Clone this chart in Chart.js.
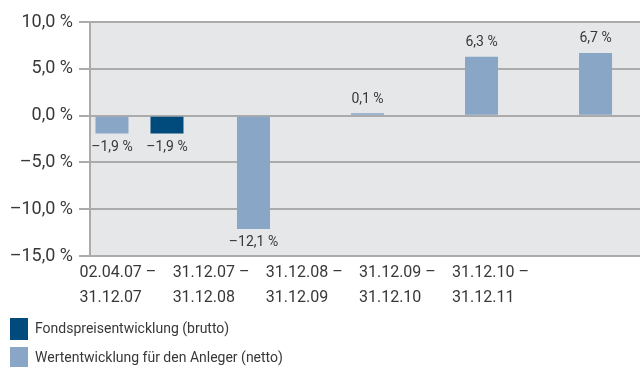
<!DOCTYPE html>
<html>
<head>
<meta charset="utf-8">
<script src="https://cdn.jsdelivr.net/npm/chart.js"></script>
<style>
  html, body { margin: 0; padding: 0; background: #fff; }
  canvas { display: block; }
</style>
</head>
<body>
<canvas id="myChart" width="640" height="367"></canvas>
<script>
// periods on the x axis (two lines each)
const periods = [
    ['02.04.07 –', '31.12.07'],
    ['31.12.07 –', '31.12.08'],
    ['31.12.08 –', '31.12.09'],
    ['31.12.09 –', '31.12.10'],
    ['31.12.10 –', '31.12.11']
];
// performance in percent
const nettoValues = [-1.9, -12.1, 0.1, 6.3, 6.7];
const bruttoValues = [-1.9, null, null, null, null];
const yTicks = [10, 5, 0, -5, -10, -15];
const bruttoName = 'Fondspreisentwicklung (brutto)';
const nettoName = 'Wertentwicklung für den Anleger (netto)';

const FONT = "Roboto, 'DejaVu Sans Condensed', sans-serif";
const TEXT = '#383838';
const GRID = '#ababab';
const LIGHT = '#89a6c7';
const DARK = '#004b7c';

function pct(v) {
    return v.toFixed(1).replace('.', ',').replace('-', '–') + ' %';
}

const plotBackground = {
    id: 'plotBackground',
    beforeDraw(chart) {
        const { ctx, chartArea } = chart;
        ctx.save();
        ctx.fillStyle = '#e6e7e9';
        ctx.fillRect(chartArea.left, chartArea.top, chartArea.right - chartArea.left, chartArea.bottom - chartArea.top);
        ctx.restore();
    }
};

const valueLabels = {
    id: 'valueLabels',
    afterDatasetsDraw(chart) {
        const ctx = chart.ctx;
        ctx.save();
        ctx.font = '14px ' + FONT;
        ctx.fillStyle = TEXT;
        ctx.textAlign = 'center';
        chart.data.datasets.forEach((ds, di) => {
            const meta = chart.getDatasetMeta(di);
            meta.data.forEach((bar, i) => {
                const v = ds.data[i].y;
                if (v === null) return;
                if (v >= 0) {
                    ctx.textBaseline = 'bottom';
                    ctx.fillText(pct(v), bar.x, bar.y - 7);
                } else {
                    ctx.textBaseline = 'top';
                    ctx.fillText(pct(v), bar.x, bar.y + 7);
                }
            });
        });
        ctx.restore();
    }
};

// stacked legend under the period labels, brutto first
const stackedLegend = {
    id: 'stackedLegend',
    afterDraw(chart) {
        const ctx = chart.ctx;
        const top = chart.scales.xl.bottom + 4;
        const items = chart.data.datasets.slice().reverse();
        ctx.save();
        ctx.font = '14px ' + FONT;
        ctx.textBaseline = 'middle';
        ctx.textAlign = 'left';
        items.forEach((ds, k) => {
            const y = top + k * 29;
            ctx.fillStyle = ds.backgroundColor;
            ctx.fillRect(10, y, 18, 22);
            ctx.fillStyle = TEXT;
            ctx.fillText(ds.label, 35, y + 11);
        });
        ctx.restore();
    }
};

const data = {
    datasets: [{
        label: nettoName,
        data: nettoValues.map((v, i) => ({ x: i, y: v })),
        backgroundColor: LIGHT
    }, {
        label: bruttoName,
        data: bruttoValues.map((v, i) => ({ x: i, y: v })),
        backgroundColor: DARK
    }]
};

const config = {
    type: 'bar',
    data: data,
    options: {
        responsive: false,
        animation: false,
        devicePixelRatio: 1,
        skipNull: true,
        categoryPercentage: 0.965,
        barPercentage: 0.6,
        maxBarThickness: 33,
        minBarLength: 2.5,
        layout: {
            padding: { top: 22, right: 0, bottom: 53, left: 0 }
        },
        plugins: {
            legend: { display: false },
            tooltip: { enabled: false }
        },
        scales: {
            x: {
                type: 'linear',
                display: false,
                offset: false,
                min: -0.434,
                max: 4.39,
                afterBuildTicks: (s) => { s.ticks = periods.map((p, i) => ({ value: i })); }
            },
            xl: {
                type: 'linear',
                axis: 'x',
                position: 'bottom',
                offset: false,
                min: 0.113,
                max: 6.017,
                afterBuildTicks: (s) => { s.ticks = periods.map((p, i) => ({ value: i })); },
                grid: { display: false, drawTicks: false },
                border: { display: false },
                ticks: {
                    align: 'start',
                    autoSkip: false,
                    maxRotation: 0,
                    padding: 4,
                    color: TEXT,
                    font: { family: FONT, size: 16, lineHeight: 1.56 },
                    callback: (v) => periods[v]
                }
            },
            y: {
                min: -15,
                max: 10,
                afterBuildTicks: (s) => { s.ticks = yTicks.map(v => ({ value: v })); },
                afterFit: (s) => { s.width = 90; },
                grid: { color: GRID, lineWidth: 2, tickLength: 11 },
                border: { color: GRID, width: 2 },
                ticks: {
                    padding: 6,
                    color: TEXT,
                    font: { family: FONT, size: 18 },
                    callback: (v) => pct(v)
                }
            }
        }
    },
    plugins: [plotBackground, valueLabels, stackedLegend]
};

const myChart = new Chart(document.getElementById('myChart'), config);
</script>
</body>
</html>
